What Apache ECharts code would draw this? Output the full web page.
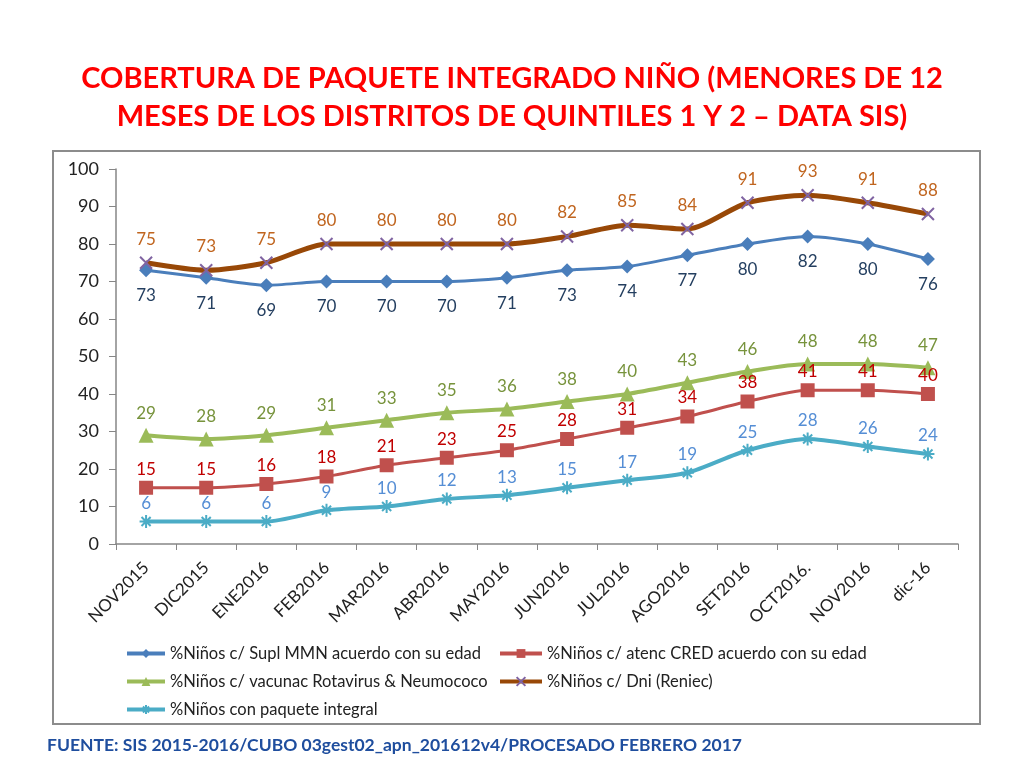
<!DOCTYPE html>
<html>
<head>
<meta charset="utf-8">
<script src="https://cdn.jsdelivr.net/npm/echarts@6/dist/echarts.min.js"></script>
<style>
  html, body { margin: 0; padding: 0; background: #fff; }
  #chart { width: 1024px; height: 768px; }
</style>
</head>
<body>
<div id="chart"></div>
<script>
var months = ['NOV2015', 'DIC2015', 'ENE2016', 'FEB2016', 'MAR2016', 'ABR2016', 'MAY2016',
  'JUN2016', 'JUL2016', 'AGO2016', 'SET2016', 'OCT2016.', 'NOV2016', 'dic-16'];
var suplMMN = [73, 71, 69, 70, 70, 70, 71, 73, 74, 77, 80, 82, 80, 76];
var atencCRED = [15, 15, 16, 18, 21, 23, 25, 28, 31, 34, 38, 41, 41, 40];
var vacunac = [29, 28, 29, 31, 33, 35, 36, 38, 40, 43, 46, 48, 48, 47];
var dniReniec = [75, 73, 75, 80, 80, 80, 80, 82, 85, 84, 91, 93, 91, 88];
var paquete = [6, 6, 6, 9, 10, 12, 13, 15, 17, 19, 25, 28, 26, 24];
var seriesNames = [
  '%Niños c/ Supl MMN acuerdo con su edad',
  '%Niños c/ atenc CRED acuerdo con su edad',
  '%Niños c/ vacunac Rotavirus & Neumococo',
  '%Niños c/ Dni (Reniec)',
  '%Niños con paquete integral'
];

var font = 'Lato, "Open Sans", sans-serif';
var xMark = 'path://M0,0L10,10M10,0L0,10';
var starMark = 'path://M0,5L10,5M5,0L5,10M1.5,1.5L8.5,8.5M8.5,1.5L1.5,8.5';

function lineSeries(name, data, color, width, symbol, size, labelColor, pos, dist) {
  return {
    name: name,
    type: 'line',
    data: data,
    smooth: 0.25,
    symbol: symbol,
    symbolSize: size,
    lineStyle: { color: color, width: width },
    itemStyle: { color: color },
    label: {
      show: true,
      position: pos,
      distance: dist,
      color: labelColor,
      fontSize: 17,
      fontFamily: font
    },
    z: 3
  };
}

var chart = echarts.init(document.getElementById('chart'));

var series = [
  lineSeries(seriesNames[0], suplMMN, '#4A7EBB', 3, 'diamond', 14, '#243F60', 'bottom', 10),
  lineSeries(seriesNames[1], atencCRED, '#C0504D', 3, 'rect', 14, '#C00000', 'top', 3),
  lineSeries(seriesNames[2], vacunac, '#9BBB59', 4, 'triangle', 15, '#77933C', 'top', 6),
  lineSeries(seriesNames[3], dniReniec, '#984807', 5, xMark, 12, '#C0651F', 'top', 8),
  lineSeries(seriesNames[4], paquete, '#4BACC6', 4, starMark, 13, '#558ED5', 'top', 2)
];
// x and asterisk markers are stroked, not filled
series[3].itemStyle = { color: '#8064A2', borderColor: '#8064A2', borderWidth: 2 };
series[4].itemStyle = { color: '#4BACC6', borderColor: '#4BACC6', borderWidth: 2 };

var legendText = { fontSize: 16.5, color: '#222', fontFamily: font };

var option = {
  backgroundColor: '#fff',
  animation: false,
  title: {
    text: 'COBERTURA DE PAQUETE INTEGRADO NIÑO (MENORES DE 12\nMESES DE LOS DISTRITOS DE QUINTILES 1 Y 2 – DATA SIS)',
    left: 'center',
    top: 55,
    textStyle: {
      color: '#FF0000',
      fontSize: 29,
      fontWeight: 'bold',
      fontFamily: font,
      lineHeight: 38
    }
  },
  graphic: [
    {
      type: 'rect',
      shape: { x: 53, y: 151, width: 927, height: 573 },
      style: { fill: 'none', stroke: '#8c8c8c', lineWidth: 2 },
      z: 0
    },
    {
      type: 'text',
      left: 47,
      top: 736,
      style: {
        text: 'FUENTE: SIS 2015-2016/CUBO 03gest02_apn_201612v4/PROCESADO FEBRERO 2017',
        fill: '#1F4E9E',
        font: 'bold 17.5px ' + font
      }
    }
  ],
  legend: [
    {
      data: [seriesNames[0], seriesNames[2], seriesNames[4]],
      orient: 'vertical',
      left: 120,
      top: 640,
      itemWidth: 38,
      itemHeight: 11,
      itemGap: 11,
      lineStyle: { width: 4 },
      textStyle: legendText
    },
    {
      data: [seriesNames[1], seriesNames[3]],
      orient: 'vertical',
      left: 493,
      top: 640,
      itemWidth: 42,
      itemHeight: 11,
      itemGap: 11,
      lineStyle: { width: 4 },
      textStyle: legendText
    }
  ],
  grid: { left: 116, right: 66, top: 169, bottom: 224 },
  xAxis: {
    type: 'category',
    data: months,
    boundaryGap: true,
    axisLine: { lineStyle: { color: '#868686', width: 1.5 } },
    axisTick: { show: true, alignWithLabel: false, length: 6, lineStyle: { color: '#868686' } },
    axisLabel: {
      rotate: 45,
      interval: 0,
      color: '#222',
      fontSize: 17,
      fontFamily: font,
      margin: 21
    }
  },
  yAxis: {
    type: 'value',
    min: 0,
    max: 100,
    interval: 10,
    axisLine: { show: true, lineStyle: { color: '#868686', width: 1.5 } },
    axisTick: { show: true, length: 7, lineStyle: { color: '#868686' } },
    splitLine: { show: false },
    axisLabel: { color: '#222', fontSize: 18, fontFamily: font, margin: 17 }
  },
  series: series
};

chart.setOption(option);
</script>
</body>
</html>
